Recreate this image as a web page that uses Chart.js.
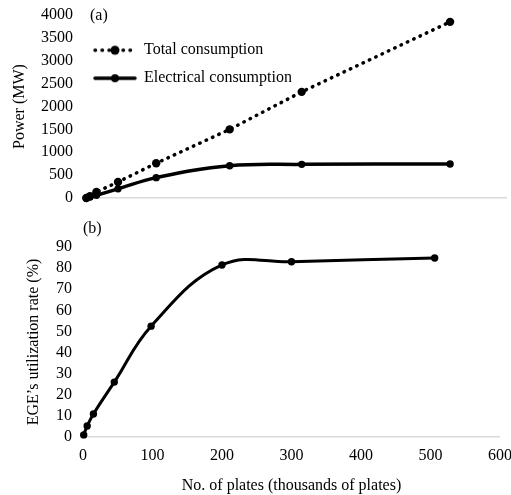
<!DOCTYPE html>
<html><head><meta charset="utf-8">
<script src="https://cdn.jsdelivr.net/npm/chart.js@4/dist/chart.umd.min.js"></script>
<style>
html,body{margin:0;padding:0;background:#fff;}
#wrap{position:relative;width:511px;height:495px;overflow:hidden;}
#c1{position:absolute;left:0;top:0;}
#c2{position:absolute;left:0;top:212px;}
.lab{position:absolute;font:16px "Liberation Serif",serif;color:#000;line-height:18px;}
</style></head><body>
<div id="wrap">
<canvas id="c1" width="511" height="212"></canvas>
<canvas id="c2" width="511" height="283"></canvas>
<div class="lab" style="left:90px;top:6px">(a)</div>
<div class="lab" style="left:83px;top:219px">(b)</div>
</div>
<script>
// ---- data ----
const plates = [1, 6, 15, 45, 98, 200, 300, 506];          // thousands of plates
const totalMW = [0, 40, 130, 350, 760, 1500, 2320, 3850];
const electricalMW = [0, 20, 60, 200, 445, 705, 735, 742];
const utilization = [1, 5.2, 10.9, 26, 52.5, 81.5, 83, 84.8];
const seriesNames = ['Total consumption', 'Electrical consumption'];
const powerTitle = 'Power (MW)';
const utilTitle = 'EGE\u2019s utilization rate (%)';
const xTitle = 'No. of plates (thousands of plates)';

const FONT = '"Liberation Serif", "Times New Roman", serif';
Chart.defaults.font.family = FONT;
Chart.defaults.font.size = 16;
Chart.defaults.color = '#000';

function legendSymbol(dotted) {
  const c = document.createElement('canvas');
  c.width = 44; c.height = 14;
  const g = c.getContext('2d');
  g.strokeStyle = '#000'; g.fillStyle = '#000';
  g.lineWidth = 3.5; g.lineCap = 'round';
  if (dotted) g.setLineDash([0.5, 6.5]);
  g.beginPath(); g.moveTo(2, 7); g.lineTo(42, 7); g.stroke();
  g.setLineDash([]);
  g.beginPath(); g.arc(22, 7, dotted ? 4.5 : 4, 0, Math.PI * 2); g.fill();
  return c;
}
const symTotal = legendSymbol(true);
const symElec = legendSymbol(false);

const zeroGrid = {
  drawTicks: false,
  color: (ctx) => (ctx.tick && ctx.tick.value === 0) ? '#d9d9d9' : 'rgba(0,0,0,0)',
  lineWidth: 1.5
};
const plain = (v) => String(v);
const noPad = (s) => { s.paddingTop = 0; s.paddingBottom = 0; s.paddingLeft = 0; s.paddingRight = 0; };

new Chart(document.getElementById('c1'), {
  type: 'line',
  data: {
    datasets: [
      {
        label: seriesNames[0],
        data: plates.map((x, i) => ({x, y: totalMW[i]})),
        borderColor: '#000', backgroundColor: '#000',
        borderWidth: 3.5, borderDash: [0.5, 6.5], borderCapStyle: 'round',
        pointRadius: 4.2, pointHoverRadius: 4.2, pointBorderWidth: 0,
        tension: 0, clip: false, pointStyle: 'circle'
      },
      {
        label: seriesNames[1],
        data: plates.map((x, i) => ({x, y: electricalMW[i]})),
        borderColor: '#000', backgroundColor: '#000',
        borderWidth: 3.5, pointRadius: 3.7, pointHoverRadius: 3.7, pointBorderWidth: 0,
        tension: 0.4, clip: false, pointStyle: 'circle'
      }
    ]
  },
  options: {
    responsive: false, animation: false,
    layout: {padding: {left: 0, right: 4, top: 15, bottom: 14}, autoPadding: false},
    plugins: {
      tooltip: {enabled: false},
      legend: {
        position: 'chartArea', align: 'start',
        title: {display: true, text: '', padding: 5.5},
        labels: {
          usePointStyle: true, pointStyleWidth: 42, padding: 12,
          font: {size: 16, family: FONT}, color: '#000',
          generateLabels: (chart) => chart.data.datasets.map((ds, i) => ({
            text: ds.label, pointStyle: i === 0 ? symTotal : symElec,
            fillStyle: '#000', strokeStyle: '#000', lineWidth: 0, datasetIndex: i, hidden: false
          }))
        }
      }
    },
    scales: {
      x: {type: 'linear', min: -5, max: 585, display: false},
      y: {
        min: 0, max: 4000,
        ticks: {stepSize: 500, autoSkip: false, callback: plain, padding: 9, font: {size: 16, family: FONT}, color: '#000'},
        grid: zeroGrid, border: {display: false},
        title: {display: true, text: powerTitle, font: {size: 16, family: FONT}, color: '#000', padding: {top: 10, bottom: 0}},
        afterFit: (s) => { s.width = 82; noPad(s); }
      }
    }
  }
});

new Chart(document.getElementById('c2'), {
  type: 'line',
  data: {
    datasets: [{
      label: 'utilization',
      data: plates.map((x, i) => ({x, y: utilization[i]})),
      borderColor: '#000', backgroundColor: '#000',
      borderWidth: 3, pointRadius: 3.7, pointHoverRadius: 3.7, pointBorderWidth: 0,
      tension: 0.4, clip: false
    }]
  },
  options: {
    responsive: false, animation: false,
    layout: {padding: {left: 0, right: 11, top: 35, bottom: 0}, autoPadding: false},
    plugins: {legend: {display: false}, tooltip: {enabled: false}},
    scales: {
      x: {
        type: 'linear', min: 0, max: 600,
        ticks: {stepSize: 100, autoSkip: false, callback: plain, padding: 1, font: {size: 16, family: FONT}, color: '#000', maxRotation: 0},
        grid: {display: false}, border: {display: false},
        title: {display: true, text: xTitle, font: {size: 16, family: FONT}, color: '#000', padding: {top: 0, bottom: 0}},
        afterFit: (s) => { s.height = 58; noPad(s); }
      },
      y: {
        min: 0, max: 90,
        ticks: {stepSize: 10, autoSkip: false, callback: plain, padding: 11, font: {size: 16, family: FONT}, color: '#000'},
        grid: zeroGrid, border: {display: false},
        title: {display: true, text: utilTitle, font: {size: 16, family: FONT}, color: '#000', padding: {top: 24, bottom: 0}},
        afterFit: (s) => { s.width = 83; noPad(s); }
      }
    }
  }
});
</script>
</body></html>
